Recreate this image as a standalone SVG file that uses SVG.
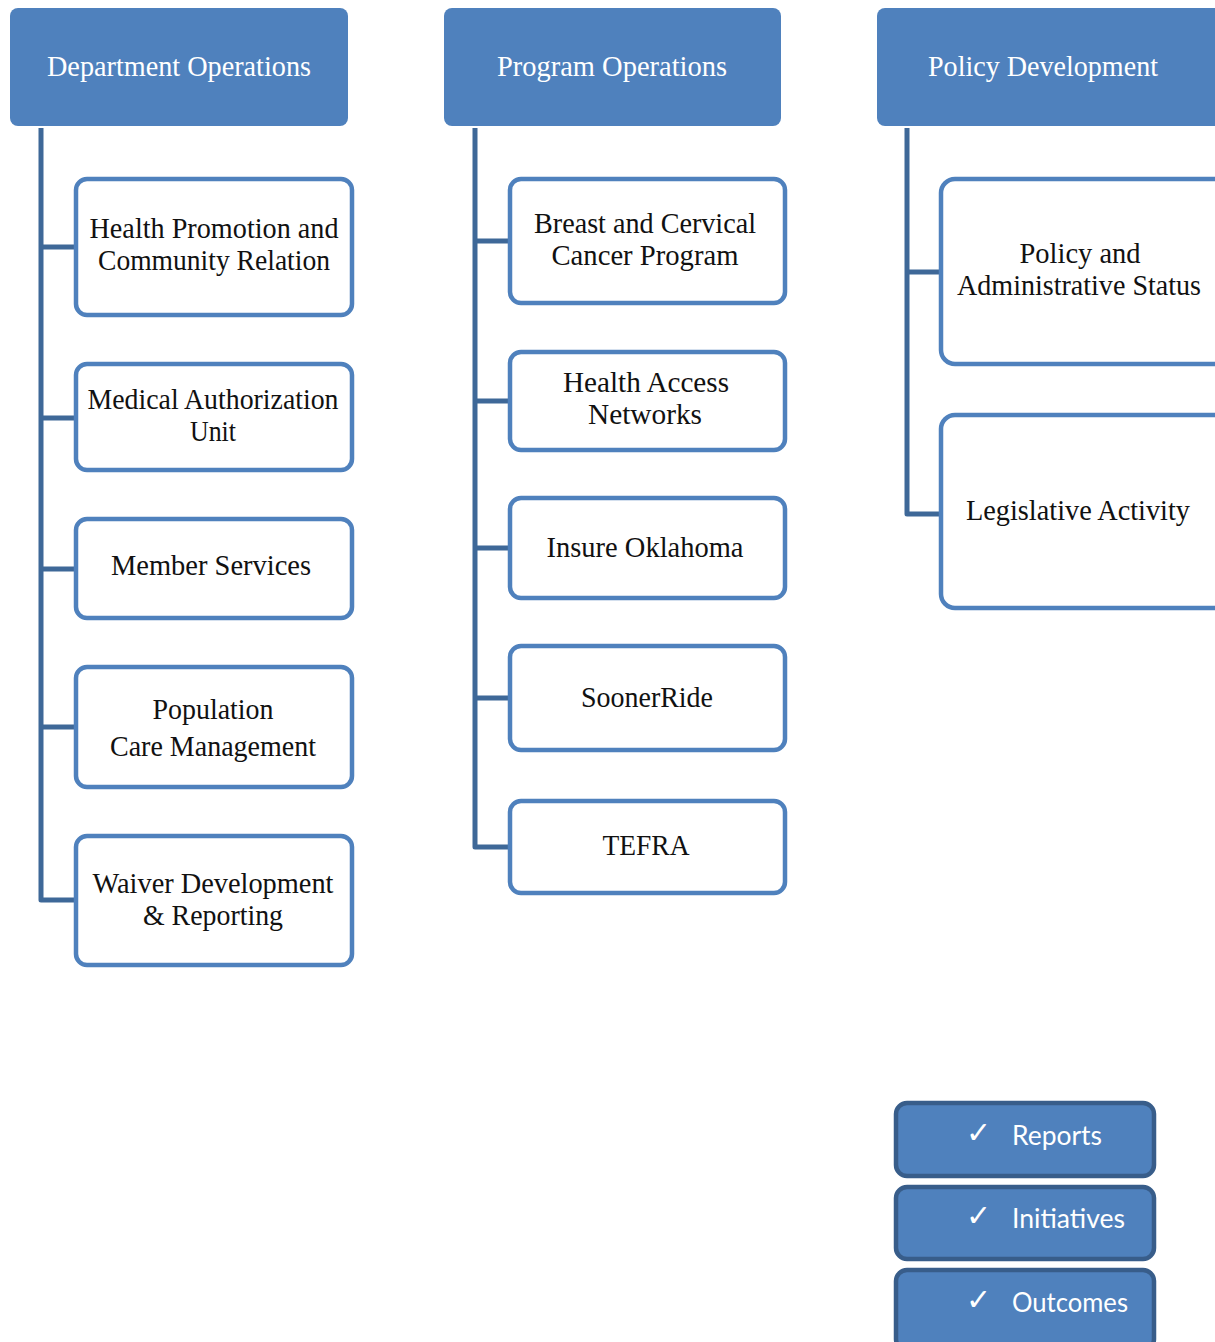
<svg xmlns="http://www.w3.org/2000/svg" width="1215" height="1342" viewBox="0 0 1215 1342">
<style>
.hdr{fill:#4F81BD;}
.hdrt{font-family:"Liberation Serif",serif;font-size:30px;fill:#fff;text-anchor:middle;}
.box{fill:#fff;stroke:#4F81BD;stroke-width:4.5;}
.bt{font-family:"Liberation Serif",serif;font-size:30px;fill:#111;text-anchor:middle;}
.con{fill:none;stroke:#3E6898;stroke-width:5;stroke-linejoin:round;}
.leg{fill:#4F81BD;stroke:#385D8A;stroke-width:4.5;}
.lt{font-family:"Lato","Open Sans",sans-serif;font-size:27px;fill:#fff;}
.ck{font-family:"DejaVu Sans",sans-serif;font-size:30px;fill:#fff;}
</style>
<rect width="1215" height="1342" fill="#fff"/>
<g id="connectors">
<path class="con" d="M41 128 V900 H75 M41 247 H75 M41 418 H75 M41 569 H75 M41 727 H75"/>
<path class="con" d="M475 128 V847 H509 M475 241 H509 M475 401 H509 M475 548 H509 M475 698 H509"/>
<path class="con" d="M907 128 V514 H940 M907 272 H940"/>
</g>
<g id="dept-ops"><rect class="hdr" x="10" y="8" width="338" height="118" rx="8"/><text class="hdrt" x="179" y="76" textLength="264" lengthAdjust="spacingAndGlyphs">Department Operations</text></g>
<g id="prog-ops"><rect class="hdr" x="444" y="8" width="337" height="118" rx="8"/><text class="hdrt" x="612" y="76" textLength="230" lengthAdjust="spacingAndGlyphs">Program Operations</text></g>
<g id="policy-dev"><rect class="hdr" x="877" y="8" width="348" height="118" rx="8"/><text class="hdrt" x="1043" y="76" textLength="230" lengthAdjust="spacingAndGlyphs">Policy Development</text></g>

<g id="health-promo"><rect class="box" x="76" y="179" width="276" height="136" rx="11"/><text class="bt" x="214" y="238" textLength="249" lengthAdjust="spacingAndGlyphs">Health Promotion and</text><text class="bt" x="214" y="270" textLength="232" lengthAdjust="spacingAndGlyphs">Community Relation</text></g>
<g id="med-auth"><rect class="box" x="76" y="364" width="276" height="106" rx="11"/><text class="bt" x="213" y="409" textLength="251" lengthAdjust="spacingAndGlyphs">Medical Authorization</text><text class="bt" x="213" y="441" textLength="46" lengthAdjust="spacingAndGlyphs">Unit</text></g>
<g id="member-svc"><rect class="box" x="76" y="519" width="276" height="99" rx="11"/><text class="bt" x="211" y="575" textLength="200" lengthAdjust="spacingAndGlyphs">Member Services</text></g>
<g id="pop-care"><rect class="box" x="76" y="667" width="276" height="120" rx="11"/><text class="bt" x="213" y="719" textLength="121" lengthAdjust="spacingAndGlyphs">Population</text><text class="bt" x="213" y="756" textLength="206" lengthAdjust="spacingAndGlyphs">Care Management</text></g>
<g id="waiver"><rect class="box" x="76" y="836" width="276" height="129" rx="11"/><text class="bt" x="213" y="893" textLength="241" lengthAdjust="spacingAndGlyphs">Waiver Development</text><text class="bt" x="213" y="925" textLength="140" lengthAdjust="spacingAndGlyphs">&amp; Reporting</text></g>

<g id="breast"><rect class="box" x="510" y="179" width="275" height="124" rx="11"/><text class="bt" x="645" y="233" textLength="222" lengthAdjust="spacingAndGlyphs">Breast and Cervical</text><text class="bt" x="645" y="265" textLength="187" lengthAdjust="spacingAndGlyphs">Cancer Program</text></g>
<g id="health-access"><rect class="box" x="510" y="352" width="275" height="98" rx="11"/><text class="bt" x="646" y="392" textLength="166" lengthAdjust="spacingAndGlyphs">Health Access</text><text class="bt" x="645" y="424" textLength="114" lengthAdjust="spacingAndGlyphs">Networks</text></g>
<g id="insure-ok"><rect class="box" x="510" y="498" width="275" height="100" rx="11"/><text class="bt" x="645" y="557" textLength="197" lengthAdjust="spacingAndGlyphs">Insure Oklahoma</text></g>
<g id="soonerride"><rect class="box" x="510" y="646" width="275" height="104" rx="11"/><text class="bt" x="647" y="707" textLength="132" lengthAdjust="spacingAndGlyphs">SoonerRide</text></g>
<g id="tefra"><rect class="box" x="510" y="801" width="275" height="92" rx="11"/><text class="bt" x="646" y="855" textLength="87" lengthAdjust="spacingAndGlyphs">TEFRA</text></g>

<g id="policy-admin"><rect class="box" x="941" y="179" width="290" height="185" rx="14"/><text class="bt" x="1080" y="263" textLength="121" lengthAdjust="spacingAndGlyphs">Policy and</text><text class="bt" x="1079" y="295" textLength="244" lengthAdjust="spacingAndGlyphs">Administrative Status</text></g>
<g id="legislative"><rect class="box" x="941" y="415" width="290" height="193" rx="14"/><text class="bt" x="1078" y="520" textLength="224" lengthAdjust="spacingAndGlyphs">Legislative Activity</text></g>

<g id="reports"><rect class="leg" x="896" y="1103" width="258" height="73" rx="11"/><text class="ck" x="966" y="1143">✓</text><text class="lt" x="1012" y="1145" textLength="90" lengthAdjust="spacingAndGlyphs">Reports</text></g>
<g id="initiatives"><rect class="leg" x="896" y="1187" width="258" height="72" rx="11"/><text class="ck" x="966" y="1226">✓</text><text class="lt" x="1012" y="1228" textLength="113" lengthAdjust="spacingAndGlyphs">Initiatives</text></g>
<g id="outcomes"><rect class="leg" x="896" y="1270" width="258" height="80" rx="11"/><text class="ck" x="966" y="1310">✓</text><text class="lt" x="1012" y="1312" textLength="116" lengthAdjust="spacingAndGlyphs">Outcomes</text></g>
</svg>
